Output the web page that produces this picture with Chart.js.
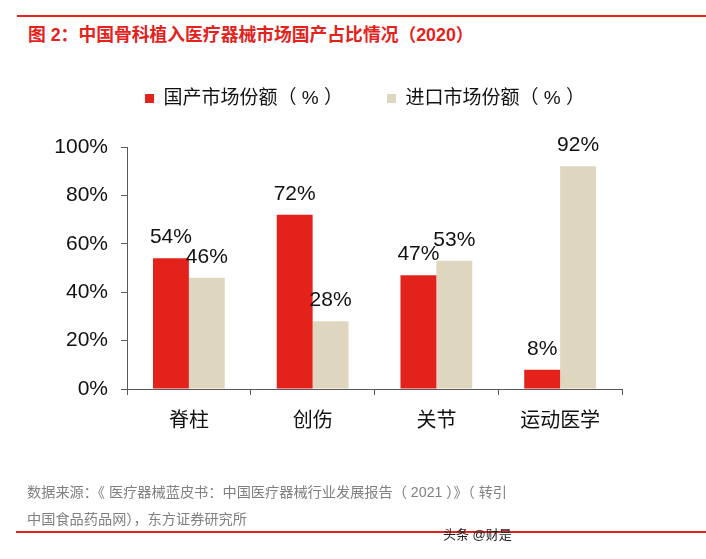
<!DOCTYPE html>
<html>
<head>
<meta charset="utf-8">
<script src="https://cdn.jsdelivr.net/npm/chart.js@4/dist/chart.umd.min.js"></script>
<style>
  body { margin: 0; background: #fff; }
  .wrap { position: relative; width: 706px; height: 559px; overflow: hidden; font-family: "Liberation Sans", "Noto Sans CJK SC", sans-serif; }
  .rule { position: absolute; height: 2px; background: #e3221c; }
  .title { position: absolute; left: 28px; top: 24px; font-size: 17.8px; line-height: 22px; font-weight: bold; color: #e3221c; white-space: nowrap; }
  .source { position: absolute; left: 27px; color: #808080; font-size: 14.2px; line-height: 18px; white-space: nowrap; }
  .mark { position: absolute; left: 443px; top: 526px; font-size: 13px; line-height: 18px; color: #222; white-space: nowrap; }
  canvas { position: absolute; left: 0; top: 0; }
</style>
</head>
<body>
<div class="wrap">
  <div class="rule" style="left:17px; right:0; top:15px;"></div>
  <div class="title">图 2：中国骨科植入医疗器械市场国产占比情况（2020）</div>
  <canvas id="chart" width="706" height="559"></canvas>
  <div class="source" style="top:483px;">数据来源：《 医疗器械蓝皮书：中国医疗器械行业发展报告（ 2021 ）》（ 转引</div>
  <div class="source" style="top:510px;">中国食品药品网），东方证券研究所</div>
  <div class="rule" style="left:16px; right:0; top:531px;"></div>
  <div class="mark">头条 @财是</div>
</div>
<script>
const categories = ['脊柱', '创伤', '关节', '运动医学'];
const domesticShare = [54, 72, 47, 8];
const importShare = [46, 28, 53, 92];
const seriesNames = ['国产市场份额（ % ）', '进口市场份额（ % ）'];
const yTicks = [0, 20, 40, 60, 80, 100];

const RED = 'rgb(227,34,27)';
const BEIGE = 'rgb(223,214,191)';
const AXIS = '#595959';
const FONT = '"Liberation Sans", "Noto Sans CJK SC", sans-serif';

// labels above each bar
const barLabels = {
  id: 'barLabels',
  afterDatasetsDraw(chart) {
    const ctx = chart.ctx;
    ctx.save();
    ctx.font = '21px ' + FONT;
    ctx.fillStyle = '#111';
    ctx.textAlign = 'center';
    ctx.textBaseline = 'alphabetic';
    chart.data.datasets.forEach((ds, i) => {
      chart.getDatasetMeta(i).data.forEach((bar, j) => {
        ctx.fillText(ds.data[j] + '%', bar.x, bar.y - 15);
      });
    });
    ctx.restore();
  }
};

// more room under the legend, and move it a bit to the right
const legendPlace = {
  id: 'legendPlace',
  beforeLayout(chart) {
    const lg = chart.legend;
    if (lg && !lg._patched) {
      const fit = lg.fit;
      lg.fit = function () { fit.call(this); this.height += 29; };
      lg._patched = true;
    }
  },
  afterLayout(chart) {
    const lg = chart.legend;
    if (!lg) return;
    const dx = 365 - (lg.left + lg.right) / 2;
    lg.left += dx;
    lg.right += dx;
  }
};

new Chart(document.getElementById('chart'), {
  type: 'bar',
  data: {
    labels: categories,
    datasets: [
      { label: seriesNames[0], data: domesticShare, backgroundColor: RED },
      { label: seriesNames[1], data: importShare, backgroundColor: BEIGE }
    ]
  },
  plugins: [barLabels, legendPlace],
  options: {
    responsive: false,
    animation: false,
    layout: { padding: { top: 45, right: 84, bottom: 120, left: 0 } },
    datasets: { bar: { barPercentage: 1, categoryPercentage: 0.58 } },
    plugins: {
      legend: {
        position: 'top',
        labels: {
          boxWidth: 9,
          boxHeight: 9,
          padding: 44,
          color: '#111',
          font: { size: 19, family: FONT }
        }
      },
      tooltip: { enabled: false },
      title: { display: false }
    },
    scales: {
      x: {
        afterFit: (axis) => { axis.height = 50; },
        border: { color: AXIS, width: 1 },
        grid: { display: true, drawOnChartArea: false, offset: true, tickLength: 6, color: AXIS },
        ticks: { color: '#111', padding: 14, font: { size: 20, family: FONT } }
      },
      y: {
        min: 0,
        max: 100,
        afterFit: (axis) => { axis.width = 127; },
        afterBuildTicks: (axis) => { axis.ticks = yTicks.map(v => ({ value: v })); },
        border: { color: AXIS, width: 1 },
        grid: { display: true, drawOnChartArea: false, tickLength: 6, color: AXIS },
        ticks: {
          color: '#111',
          padding: 13,
          font: { size: 21, family: FONT },
          callback: (v) => v + '%'
        }
      }
    }
  }
});
</script>
</body>
</html>
